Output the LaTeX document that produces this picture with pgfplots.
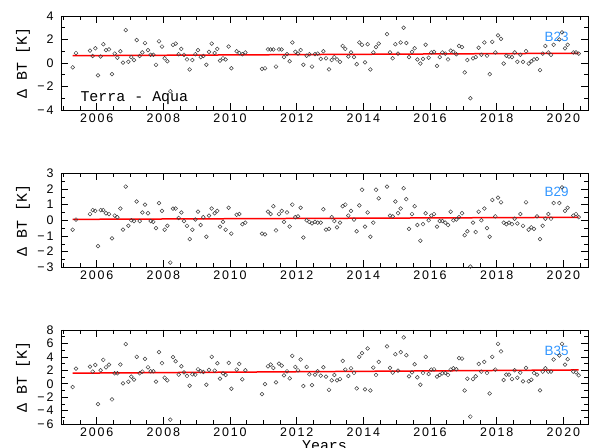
\documentclass[border=0pt]{standalone}
\usepackage{fontspec}
\setmainfont{Liberation Sans}
\newfontfamily\tickfont[LetterSpace=15]{Liberation Sans}
\newfontfamily\labfont{Liberation Sans}
\newfontfamily\cour{Liberation Mono}
\usepackage{pgfplots}
\pgfplotsset{compat=1.18}
\usepackage{pgfplotstable}
\definecolor{lblue}{RGB}{50,150,255}
\definecolor{mk}{RGB}{60,60,60}

\pgfplotstableread{
x b23 b29 b35
2005.28 -0.37 -0.6 -0.5
2005.38 0.85 0.05 2.25
2005.80 1.05 0.4 2.55
2005.88 0.6 0.65 1.8
2005.96 1.25 0.6 2.8
2006.04 -1.05 -1.65 -3.05
2006.12 0.55 0.65 2.0
2006.20 1.6 0.65 3.55
2006.28 1.1 0.45 2.45
2006.37 1.15 0.4 2.85
2006.46 -0.95 -1.15 -2.35
2006.54 0.8 0.3 1.55
2006.62 0.45 0.2 1.55
2006.71 1.0 0.75 2.85
2006.79 0.03 -0.6 0.05
2006.87 2.8 2.15 5.9
2006.95 0.1 -0.35 0.3
2007.04 0.5 0 1.05
2007.12 0.25 -0.05 0.6
2007.20 1.95 1.2 4.0
2007.29 0.6 -0.05 1.55
2007.37 0.9 0.5 1.8
2007.45 1.7 1.0 3.7
2007.54 1.1 0.45 2.45
2007.62 0.7 -0.05 1.85
2007.70 0.7 -0.1 1.85
2007.78 -0.15 -0.5 0.3
2007.87 1.85 1.1 4.7
2007.96 1.4 0.6 3.05
2008.04 0.4 -0.6 0.9
2008.12 0.15 -0.35 0.5
2008.21 -2.4 -2.7 -5.35
2008.29 1.55 0.75 3.95
2008.37 1.65 0.75 3.35
2008.46 0.75 0.15 1.35
2008.54 1.2 0.5 2.6
2008.62 0.7 -0.05 1.7
2008.71 0.3 -0.35 1.15
2008.79 -0.55 -1.2 -0.3
2008.87 0.25 -0.6 1.4
2008.96 0.75 0.05 1.35
2009.04 1.1 0.55 2.15
2009.12 0.5 -0.3 1.85
2009.20 0.6 0.2 1.75
2009.29 -0.15 -1.05 -0.15
2009.37 0.95 0.3 2.05
2009.45 1.65 0.75 4.0
2009.54 0.85 0.45 1.95
2009.62 1.2 0.6 3.05
2009.70 0.2 -0.4 0.75
2009.79 0.4 -0.1 1.55
2009.87 0.3 -0.6 1.3
2009.96 1.4 0.8 3.1
2010.04 -0.45 -0.85 -0.75
2010.20 1.0 0.35 2.1
2010.28 0.85 0.4 2.95
2010.37 0.75 -0.25 0.65
2010.46 0.9 -0.15 2.0
2010.96 -0.5 -0.85 -1.55
2011.05 -0.45 -0.9 -0.05
2011.14 1.15 0.55 2.6
2011.22 1.15 0.4 2.85
2011.30 1.15 0.9 2.35
2011.38 -0.3 -0.65 0.2
2011.47 1.15 0.4 3.0
2011.55 1.15 0.6 2.7
2011.62 0.5 -0.1 1.25
2011.71 0.75 0.5 1.85
2011.79 0.15 -0.4 0.8
2011.87 1.75 1.0 4.15
2011.96 0.95 0.2 2.5
2012.04 0.8 0.25 2.0
2012.12 1.1 0.8 3.6
2012.20 -0.15 -1.1 -0.35
2012.30 0.62 0 2.5
2012.38 0.75 -0.1 1.4
2012.46 -0.3 -0.2 -0.2
2012.55 0.75 -0.1 1.35
2012.63 0.8 -0.15 1.85
2012.72 0.35 -0.15 1.2
2012.80 1.0 0.7 2.45
2012.88 0.4 -0.6 1.05
2012.97 -0.55 -0.55 -0.9
2013.05 0.25 0.2 0.5
2013.13 0.5 -0.05 1.3
2013.21 0.3 -0.45 0.5
2013.30 0.1 -0.15 0.7
2013.38 1.45 0.9 3.4
2013.46 1.2 1.0 2.1
2013.55 0.55 0.3 1.15
2013.63 0.9 0.6 2.3
2013.72 0.5 0.05 1.6
2013.80 -0.1 -0.7 -0.7
2013.88 1.75 0.95 4.0
2013.96 1.55 1.95 4.55
2014.05 0.05 -0.4 -0.85
2014.13 1.6 0.5 5.25
2014.21 -0.55 -1.05 -1.0
2014.30 0.9 -0.15 2.4
2014.38 1.35 1.95 1.3
2014.46 1.65 1.4 3.25
2014.71 2.45 2.15 5.55
2014.80 0.9 0.3 2.35
2014.88 0.4 0.25 1.65
2014.96 1.6 1.2 4.4
2015.04 0.8 0.45 1.95
2015.12 1.75 0.75 4.7
2015.21 3.0 2.05 6.9
2015.29 1.7 1.35 4.25
2015.37 0.5 -0.55 1.1
2015.46 0.95 0.4 1.7
2015.54 1.25 0.9 2.9
2015.62 0.3 -0.3 0.95
2015.71 -0.05 -1.3 -0.15
2015.79 0.35 -0.25 1.6
2015.87 1.55 0.45 4.0
2015.96 0.45 0 1.45
2016.04 0.9 0.3 2.1
2016.12 0.95 0.4 2.15
2016.21 -0.25 -0.4 1.05
2016.29 0.5 -0.05 1.3
2016.37 0.9 -0.05 1.55
2016.46 0.8 -0.15 1.6
2016.54 0.3 -0.3 1.3
2016.62 1.05 0.55 2.1
2016.70 0.95 0 2.3
2016.79 0.75 0.05 2.15
2016.87 1.45 0.2 3.8
2016.96 1.35 0.45 3.75
2017.04 -0.8 -0.95 -1.0
2017.12 0.25 -0.7 0.75
2017.21 -3.0 -2.95 -4.9
2017.29 0.4 -0.15 0.7
2017.37 0.5 -0.75 1.1
2017.46 1.3 0.55 2.95
2017.54 0.7 0 1.8
2017.63 1.75 0.75 3.25
2017.71 0.62 -0.5 1.6
2017.79 -0.95 -1.05 -1.45
2017.87 1.8 1.3 4.0
2017.96 0.9 0.25 2.1
2018.04 2.35 1.45 5.95
2018.13 2.05 1.15 4.8
2018.21 -0.05 -0.15 0.55
2018.29 0.62 -0.25 1.35
2018.37 0.55 -0.15 1.35
2018.46 0.5 -0.25 0.7
2018.54 0.9 0.1 2.0
2018.62 0.1 -0.2 0.9
2018.71 0.7 0.4 1.65
2018.79 0.1 -0.35 0.35
2018.88 1.0 1.15 2.35
2018.96 -0.05 -0.6 0.35
2019.04 0.15 -0.45 0.6
2019.12 0.3 -0.55 1.6
2019.21 0.35 0.25 1.35
2019.30 -0.6 -1.2 -1.0
2019.38 0.8 -0.35 1.8
2019.46 1.45 0.1 2.3
2019.55 0.9 0.4 1.8
2019.63 0.7 0.1 1.8
2019.71 1.55 1.1 3.6
2019.88 2.0 1.1 4.2
2019.96 2.6 2.1 5.95
2020.05 1.25 0.6 2.85
2020.13 1.55 0.8 3.65
2020.30 0.9 0.3 1.8
2020.38 0.9 0.4 1.7
2020.46 0.8 0.2 1.25
}\data

\tikzset{
 blab/.style={font=\labfont\fontsize{13.5}{15}\selectfont, text=lblue},
 courlab/.style={font=\cour\fontsize{15}{17}\selectfont},
}
\pgfplotsset{
 panel/.style={
  scale only axis, width=527bp, height=94bp, anchor=north west,
  xmin=2004.93, xmax=2020.74, clip=false,
  xtick={2006,2008,2010,2012,2014,2016,2018,2020},
  xticklabels={2006,2008,2010,2012,2014,2016,2018,2020},
  minor xtick={2005,2005.5,...,2020.5},
  tick pos=both, xticklabel pos=lower, yticklabel pos=left,
  tick align=inside,
  major tick length=7bp, minor tick length=4bp,
  every tick/.style={black, line width=0.5bp},
  axis line style={line width=0.6bp},
  ticklabel style={font=\tickfont\fontsize{12.5}{14}\selectfont},
  yticklabel style={xshift=-4bp},
  ylabel={Δ BT [K]},
  ylabel style={at={(axis description cs:-0.0721,0.5)}, anchor=center, font=\cour\fontsize{15}{17}\selectfont},
 },
 pts/.style={only marks, mark=o, mark size=1.9bp, mark options={draw=mk, line width=0.5bp}},
 fit/.style={red, line width=1.5bp, no marks},
}

\begin{document}
\begin{tikzpicture}
\path[use as bounding box] (0,0) rectangle (595bp,448bp);

\begin{axis}[panel, at={(61bp,432bp)}, ymin=-4, ymax=4,
  ytick={-4,-2,0,2,4}, yticklabels={−4,−2,0,2,4}, minor ytick={-3,-1,1,3}]
\addplot[pts] table[x=x, y=b23] {\data};
\addplot[fit] coordinates {(2005.28,0.62) (2020.46,0.83)};
\node[blab] at (axis cs:2019.8,2.25) {B23};
\node[anchor=base west, courlab] at (axis cs:2005.41,-3.3) {Terra - Aqua};
\end{axis}

\begin{axis}[panel, at={(61bp,274.7bp)}, ymin=-3, ymax=3,
  ytick={-3,-2,-1,0,1,2,3}, yticklabels={−3,−2,−1,0,1,2,3}, minor ytick={-2.5,-1.5,-0.5,0.5,1.5,2.5}]
\addplot[pts] table[x=x, y=b29] {\data};
\addplot[fit] coordinates {(2005.28,0.06) (2020.46,0.19)};
\node[blab] at (axis cs:2019.8,1.8) {B29};
\end{axis}

\begin{axis}[panel, at={(61bp,118bp)}, ymin=-6, ymax=8,
  ytick={-6,-4,-2,0,2,4,6,8}, yticklabels={−6,−4,−2,0,2,4,6,8}, minor ytick={-5,-3,-1,1,3,5,7}]
\addplot[pts] table[x=x, y=b35] {\data};
\addplot[fit] coordinates {(2005.28,1.57) (2020.46,2.05)};
\node[blab] at (axis cs:2019.8,4.85) {B35};
\node[anchor=base, courlab, yshift=-26.7bp] at (rel axis cs:0.5,0) {Years};
\end{axis}
\end{tikzpicture}
\end{document}
